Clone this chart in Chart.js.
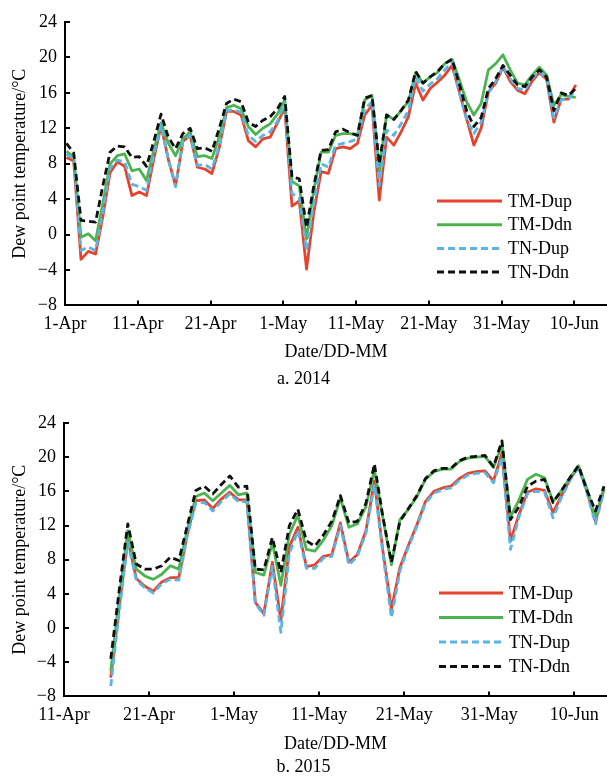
<!DOCTYPE html>
<html lang="en">
<head>
<meta charset="UTF-8">
<title>Dew point temperature 2014 / 2015</title>
<script src="https://cdn.jsdelivr.net/npm/chart.js@4"></script>
<style>
  body { margin: 0; background: #fff; }
  canvas { display: block; }
</style>
</head>
<body>
<canvas id="chart2014" width="607" height="390"></canvas>
<canvas id="chart2015" width="607" height="388"></canvas>
<script>
// ---- 2014: one value per day, 1-Apr (day 0) .. 10-Jun (day 70)
const tickDays2014 = [0, 10, 20, 30, 40, 50, 60, 70];
const tickLabels2014 = ['1-Apr', '11-Apr', '21-Apr', '1-May', '11-May', '21-May', '31-May', '10-Jun'];
const firstDay2014 = 0;

const tmDup2014 = [8.7, 8.3, -2.8, -1.9, -2.2, 2.0, 7.0, 8.2, 7.7, 4.4, 4.8, 4.4, 8.5, 12.3, 8.5, 5.5, 10.5, 11.2, 7.6, 7.4,
  6.9, 9.8, 13.9, 13.9, 13.5, 10.6, 9.9, 10.8, 11.0, 12.6, 14.3, 3.2, 3.8, -3.9, 2.5, 7.1, 6.9, 9.7, 9.9, 9.7,
  10.3, 13.5, 14.6, 3.9, 11.0, 10.1, 11.6, 13.3, 17.1, 15.2, 16.5, 17.2, 18.0, 19.1, 16.1, 13.1, 10.1, 12.0, 16.1, 17.1,
  18.9, 17.3, 16.3, 15.9, 17.3, 18.3, 17.5, 12.7, 15.3, 15.3, 16.9];
const tmDdn2014 = [9.4, 8.8, -0.3, 0.1, -0.7, 3.5, 8.0, 8.9, 9.1, 7.2, 7.4, 6.1, 9.5, 12.6, 10.3, 8.9, 10.8, 11.6, 8.8, 8.9,
  8.6, 11.0, 14.3, 14.6, 14.2, 12.2, 11.3, 12.0, 12.5, 13.6, 15.2, 6.0, 5.5, -0.5, 5.0, 9.3, 9.3, 11.2, 11.4, 11.4,
  11.2, 15.2, 15.7, 7.2, 13.5, 13.0, 14.0, 15.0, 18.3, 17.1, 17.8, 18.3, 19.3, 19.8, 17.5, 15.0, 13.5, 14.8, 18.6, 19.3,
  20.3, 18.6, 17.1, 16.9, 18.0, 18.9, 18.0, 14.6, 15.8, 15.6, 15.5];
const tnDup2014 = [9.1, 8.6, -1.8, -1.4, -1.8, 2.5, 7.5, 8.4, 8.2, 5.7, 5.4, 5.0, 9.0, 12.4, 8.5, 5.4, 10.5, 11.2, 7.8, 7.9,
  7.4, 10.0, 14.0, 14.1, 13.8, 11.2, 10.5, 11.2, 11.6, 12.8, 14.8, 4.6, 4.2, -1.8, 3.5, 8.0, 7.6, 10.1, 10.3, 10.5,
  10.8, 14.2, 15.0, 5.5, 11.8, 11.2, 12.5, 14.0, 17.8, 16.2, 17.0, 17.6, 18.6, 19.5, 16.0, 13.0, 11.4, 12.7, 16.0, 17.3,
  19.0, 17.6, 16.5, 16.3, 17.6, 18.4, 17.7, 13.2, 15.2, 15.3, 16.4];
const tnDdn2014 = [10.3, 9.2, 1.6, 1.5, 1.4, 5.5, 9.3, 10.0, 9.9, 8.7, 8.8, 7.7, 10.5, 13.6, 11.0, 9.7, 11.4, 12.0, 9.7, 9.8,
  9.4, 12.0, 14.8, 15.3, 15.0, 12.7, 12.2, 12.9, 13.3, 14.2, 15.6, 6.5, 6.3, 0.8, 5.5, 9.5, 9.6, 11.6, 11.9, 11.5,
  11.2, 15.4, 15.7, 8.0, 13.5, 13.0, 14.0, 15.2, 18.4, 17.1, 17.8, 18.4, 19.3, 19.8, 17.0, 14.0, 12.2, 13.2, 16.5, 17.6,
  19.1, 18.0, 16.9, 16.7, 17.8, 18.6, 17.8, 14.0, 16.0, 15.7, 16.5];

// ---- 2015: days counted from 11-Apr, data run 16-Apr (day 5) .. 13-Jun (day 63)
const tickDays2015 = [0, 10, 20, 30, 40, 50, 60];
const tickLabels2015 = ['11-Apr', '21-Apr', '1-May', '11-May', '21-May', '31-May', '10-Jun'];
const firstDay2015 = 5;

const tmDup2015 = [-5.8, 2.5, 10.4, 5.8, 4.9, 4.3, 5.4, 5.9, 5.9, 11.0, 14.9, 15.0, 14.0, 15.1, 15.9, 15.0, 15.0,
  3.0, 1.7, 7.7, 0.9, 9.5, 11.8, 7.2, 7.4, 8.4, 8.6, 12.3, 7.7, 8.6, 11.4, 17.2, 9.0, 2.2, 7.1, 9.7, 12.1, 14.8,
  16.0, 16.4, 16.6, 17.5, 18.1, 18.3, 18.4, 17.2, 20.5, 10.2, 13.3, 15.9, 16.3, 16.1, 13.5, 15.5, 17.4, 18.9, 16.0, 12.5, 16.3];
const tmDdn2015 = [-5.0, 3.5, 11.4, 6.9, 6.1, 5.7, 6.3, 7.3, 6.9, 11.5, 15.4, 15.8, 14.9, 15.8, 16.7, 15.6, 15.8,
  6.5, 6.2, 10.0, 5.0, 11.0, 13.2, 9.2, 9.0, 10.3, 12.0, 15.2, 11.8, 12.2, 14.2, 18.5, 12.9, 7.4, 12.7, 13.9, 15.4, 17.4,
  18.3, 18.6, 18.6, 19.5, 19.9, 20.0, 20.1, 18.8, 21.5, 13.0, 15.0, 17.4, 18.0, 17.6, 14.8, 16.1, 17.6, 19.0, 16.3, 12.9, 16.5];
const tnDup2015 = [-6.8, 2.0, 10.0, 5.6, 4.7, 4.1, 5.2, 5.7, 5.6, 10.8, 14.6, 14.7, 13.7, 14.8, 15.7, 14.8, 14.8,
  2.9, 1.5, 7.2, -0.5, 8.7, 11.4, 7.0, 7.0, 8.2, 8.4, 12.0, 7.4, 8.4, 11.1, 16.8, 8.7, 1.2, 6.7, 9.5, 11.9, 14.6,
  15.8, 16.2, 16.4, 17.3, 17.9, 18.1, 18.2, 17.0, 20.0, 9.2, 13.0, 15.7, 16.0, 15.9, 12.9, 15.3, 17.3, 18.8, 15.8, 12.2, 16.1];
const tnDdn2015 = [-3.6, 4.5, 12.2, 7.5, 6.9, 6.9, 7.3, 8.3, 7.9, 12.0, 16.1, 16.6, 15.7, 16.8, 17.8, 16.5, 16.6,
  6.9, 6.8, 10.6, 6.5, 12.0, 13.9, 10.2, 9.6, 10.9, 12.5, 15.5, 12.3, 12.5, 14.6, 19.2, 13.0, 7.7, 12.5, 14.0, 15.5, 17.5,
  18.4, 18.7, 18.7, 19.6, 20.0, 20.1, 20.2, 18.9, 21.9, 12.7, 14.2, 16.6, 17.2, 17.4, 14.7, 16.1, 17.6, 19.0, 16.1, 13.7, 16.6];

const seriesNames = ['TM-Dup', 'TM-Ddn', 'TN-Dup', 'TN-Ddn'];

// styling
const FONT = 'Liberation Serif, Times New Roman, serif';
const seriesStyle = [
  { color: '#e6432d', dash: [],     order: 4 },
  { color: '#4cb44f', dash: [],     order: 3 },
  { color: '#5ab4e6', dash: [7, 4], order: 2 },
  { color: '#111111', dash: [7, 4], order: 1 }
];

function points(values, firstDay, shift) {
  return values.map((v, i) => ({ x: firstDay + i + shift, y: v }));
}

// tick marks pointing into the plot
const innerTicks = {
  id: 'innerTicks',
  afterDraw(chart) {
    const { ctx, chartArea, scales } = chart;
    ctx.save();
    ctx.strokeStyle = '#000';
    ctx.lineWidth = 2;
    scales.y.ticks.forEach(t => {
      const py = Math.round(scales.y.getPixelForValue(t.value));
      ctx.beginPath();
      ctx.moveTo(chartArea.left, py);
      ctx.lineTo(chartArea.left + 5, py);
      ctx.stroke();
    });
    scales.x.ticks.forEach(t => {
      const px = Math.round(scales.x.getPixelForValue(t.value));
      ctx.beginPath();
      ctx.moveTo(px, chartArea.bottom);
      ctx.lineTo(px, chartArea.bottom - 5);
      ctx.stroke();
    });
    ctx.restore();
  }
};

// legend drawn inside the plot, lower right
const insideLegend = {
  id: 'insideLegend',
  afterDraw(chart, args, opts) {
    const { ctx } = chart;
    ctx.save();
    ctx.font = '18px ' + FONT;
    ctx.textBaseline = 'middle';
    ctx.fillStyle = '#000';
    chart.data.datasets.forEach((ds, i) => {
      const y = opts.y0 + i * opts.dy;
      ctx.strokeStyle = ds.borderColor;
      ctx.lineWidth = 3;
      ctx.setLineDash(ds.borderDash || []);
      ctx.beginPath();
      ctx.moveTo(opts.x1, y);
      ctx.lineTo(opts.x2, y);
      ctx.stroke();
      ctx.setLineDash([]);
      ctx.fillText(ds.label, opts.textX, y + 1);
    });
    ctx.restore();
  }
};

function makeChart(id, cfg) {
  const datasets = cfg.series.map((vals, i) => ({
    label: seriesNames[i],
    data: points(vals, cfg.firstDay, cfg.shift),
    borderColor: seriesStyle[i].color,
    borderDash: seriesStyle[i].dash,
    borderWidth: 2.8,
    borderJoinStyle: 'round',
    pointRadius: 0,
    tension: 0,
    fill: false,
    order: seriesStyle[i].order
  }));

  return new Chart(document.getElementById(id), {
    type: 'line',
    data: { datasets },
    plugins: [innerTicks, insideLegend],
    options: {
      responsive: false,
      animation: false,
      layout: { padding: { top: cfg.padTop, right: 0, bottom: cfg.padBottom, left: 0 } },
      plugins: {
        legend: { display: false },
        tooltip: { enabled: false },
        title: {
          display: true,
          position: 'bottom',
          text: cfg.caption,
          color: '#000',
          font: { family: FONT, size: 18, weight: 'normal' },
          padding: 0
        },
        insideLegend: cfg.legend
      },
      scales: {
        x: {
          type: 'linear',
          min: 0,
          max: cfg.xMax,
          border: { color: '#000', width: 2 },
          grid: { display: false, drawTicks: false },
          afterBuildTicks: s => { s.ticks = cfg.tickDays.map(v => ({ value: v })); },
          afterFit: s => { s.height = cfg.xAxisHeight; },
          ticks: {
            autoSkip: false,
            maxRotation: 0,
            padding: 8,
            color: '#000',
            font: { family: FONT, size: 18 },
            callback: (v, i) => cfg.tickLabels[i]
          },
          title: {
            display: true,
            text: 'Date/DD-MM',
            color: '#000',
            font: { family: FONT, size: 18 },
            padding: { top: 0, bottom: cfg.xTitlePad }
          }
        },
        y: {
          min: -8,
          max: 24,
          border: { color: '#000', width: 2 },
          grid: { display: false, drawTicks: false },
          afterFit: s => { s.width = cfg.yAxisWidth; },
          ticks: {
            stepSize: 4,
            padding: 8,
            color: '#000',
            font: { family: FONT, size: 18 },
            callback: v => (v < 0 ? '\u2212' + Math.abs(v) : String(v))
          },
          title: {
            display: true,
            text: 'Dew point temperature/°C',
            color: '#000',
            font: { family: FONT, size: 18 },
            padding: { top: 9, bottom: 0 }
          }
        }
      }
    }
  });
}

makeChart('chart2014', {
  series: [tmDup2014, tmDdn2014, tnDup2014, tnDdn2014],
  firstDay: firstDay2014,
  shift: 0.2,
  tickDays: tickDays2014,
  tickLabels: tickLabels2014,
  xMax: 74.5,
  caption: 'a. 2014',
  padTop: 22,
  padBottom: 0,
  xAxisHeight: 63,
  xTitlePad: 5,
  yAxisWidth: 65,
  legend: { x1: 437, x2: 502, textX: 508, y0: 201, dy: 23.7 }
});

makeChart('chart2015', {
  series: [tmDup2015, tmDdn2015, tnDup2015, tnDdn2015],
  firstDay: firstDay2015,
  shift: 0.5,
  tickDays: tickDays2015,
  tickLabels: tickLabels2015,
  xMax: 63.85,
  caption: 'b. 2015',
  padTop: 33,
  padBottom: 0,
  xAxisHeight: 60,
  xTitlePad: 1,
  yAxisWidth: 64,
  legend: { x1: 439, x2: 503, textX: 509, y0: 203, dy: 24.5 }
});
</script>
</body>
</html>
